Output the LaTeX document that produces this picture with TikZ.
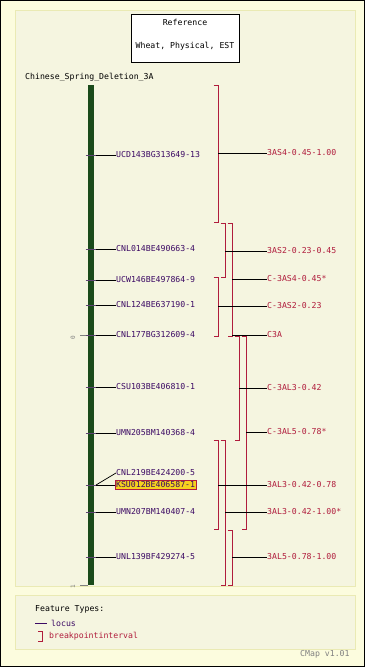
\documentclass[tikz,border=0pt]{standalone}
\usepackage{fontspec}
\setmonofont{DejaVu Sans Mono}
\definecolor{outerbg}{HTML}{FCFCDE}
\definecolor{panelbg}{HTML}{F5F5E0}
\definecolor{panelbd}{HTML}{EAEAB4}
\definecolor{locc}{HTML}{3C0A64}
\definecolor{brkc}{HTML}{B01C3C}
\definecolor{barc}{HTML}{1A4A1A}
\definecolor{hiyel}{HTML}{F5D21E}
\tikzset{
  txt/.style={font=\ttfamily\fontsize{8.2}{10}\selectfont, inner sep=0pt, anchor=west},
  loclab/.style={txt, text=locc},
  brklab/.style={txt, text=brkc},
  brk/.style={draw=brkc, line width=0.8pt},
  conn/.style={draw=black, line width=0.7pt},
  tickm/.style={draw=locc!50!gray, line width=0.7pt},
  scl/.style={font=\ttfamily\fontsize{6}{7}\selectfont, text=gray, inner sep=0pt, rotate=90}
}
\begin{document}
\begin{tikzpicture}[x=1pt,y=-1pt]
\useasboundingbox (0,0) rectangle (365,667);
\fill[outerbg] (0,0) rectangle (365,667);
\draw[black, line width=1pt] (0.5,0.5) rectangle (364.5,666.5);
% main panel
\draw[panelbd, fill=panelbg, line width=1pt] (15,10) rectangle (355,586);
% legend panel
\draw[panelbd, fill=panelbg, line width=1pt] (15,595) rectangle (355,649);
% reference box
\node[draw=black, fill=white, line width=0.8pt, minimum width=108pt, minimum height=48pt, inner sep=0pt] (refbox) at (185,38) {};
\node[txt, anchor=center] (reft) at (185,22) {Reference};
\node[txt, anchor=center] (refs) at (185,46) {Wheat, Physical, EST};
\node[txt] (chrname) at (25,77) {Chinese\_Spring\_Deletion\_3A};
% chromosome bar
\fill[barc] (88,85) rectangle (93.5,585);
% scale ticks
\coordinate (s0a) at (80,335); \coordinate (s0b) at (88,335);
\coordinate (s1a) at (80,585); \coordinate (s1b) at (88,585);
\draw[gray, line width=0.6pt] (s0a) -- (s0b);
\draw[gray, line width=0.6pt] (s1a) -- (s1b);
\node[scl] (sc0) at (73,338) {0};
\node[scl] (sc1) at (73,587) {1};
% loci
\foreach \n/\y/\t in {a/155/UCD143BG313649-13, b/249/CNL014BE490663-4, c/280/UCW146BE497864-9, d/305/CNL124BE637190-1, e/335/CNL177BG312609-4, f/387/CSU103BE406810-1, g/433/UMN205BM140368-4, i/512/UMN207BM140407-4, j/557/UNL139BF429274-5}{
  \coordinate (t\n) at (96,\y);
  \draw[tickm] (85.5,\y) -- (t\n);
  \node[loclab] (l\n) at (116,\y) {\t};
  \draw[conn] (t\n) -- (l\n.west);
}
\coordinate (th) at (96,485);
\draw[tickm] (85.5,485) -- (th);
\node[txt, text=locc, draw=brkc, fill=hiyel, line width=0.8pt, inner sep=1.2pt] (lh) at (114.5,485) {KSU012BE406587-1};
\node[loclab] (lk) at (116,473) {CNL219BE424200-5};
\draw[conn] (th) -- (lh.west);
\draw[conn] (th) -- (lk.west);
% brackets
\newcommand{\brkt}[4]{% name, x, y1, y2
  \draw[brk] (#2-4.5,#3) -- (#2,#3) -- (#2,#4) -- (#2-4.5,#4);
}
\brkt{b1}{218}{85}{222}
\brkt{b2}{225}{223}{277}
\brkt{b3}{232}{223}{336}
\brkt{b4}{218}{277}{336}
\brkt{b6}{246}{336}{529}
\brkt{b5}{239}{336}{440}
\brkt{b7}{218}{440}{529}
\brkt{b8}{225}{440}{585}
\brkt{b9}{232}{530}{585}
% bracket labels and connectors
\foreach \n/\x/\y/\t in {r1/218/153/3AS4-0.45-1.00, r2/225/251/3AS2-0.23-0.45, r3/232/279/C-3AS4-0.45*, r4/218/306/C-3AS2-0.23, r5/232/335/C3A, r6/239/388/C-3AL3-0.42, r7/246/432/C-3AL5-0.78*, r8/218/485/3AL3-0.42-0.78, r9/225/512/3AL3-0.42-1.00*, r10/232/557/3AL5-0.78-1.00}{
  \coordinate (c\n) at (\x,\y);
  \node[brklab] (\n) at (267,\y) {\t};
  \draw[conn] (c\n) -- (\n.west);
}
% legend
\node[txt] (ft) at (35,609) {Feature Types:};
\coordinate (lg1) at (35,623); \coordinate (lg2) at (47,623);
\draw[locc, line width=0.8pt] (lg1) -- (lg2);
\node[loclab] (lglocus) at (51,623) {locus};
\draw[brk] (38,631) -- (42,631) -- (42,641) -- (38,641);
\node[brklab] (lgbrk) at (49,636) {breakpointinterval};
\node[txt, text=gray] (cmap) at (300,654) {CMap v1.01};
\end{tikzpicture}
\end{document}
